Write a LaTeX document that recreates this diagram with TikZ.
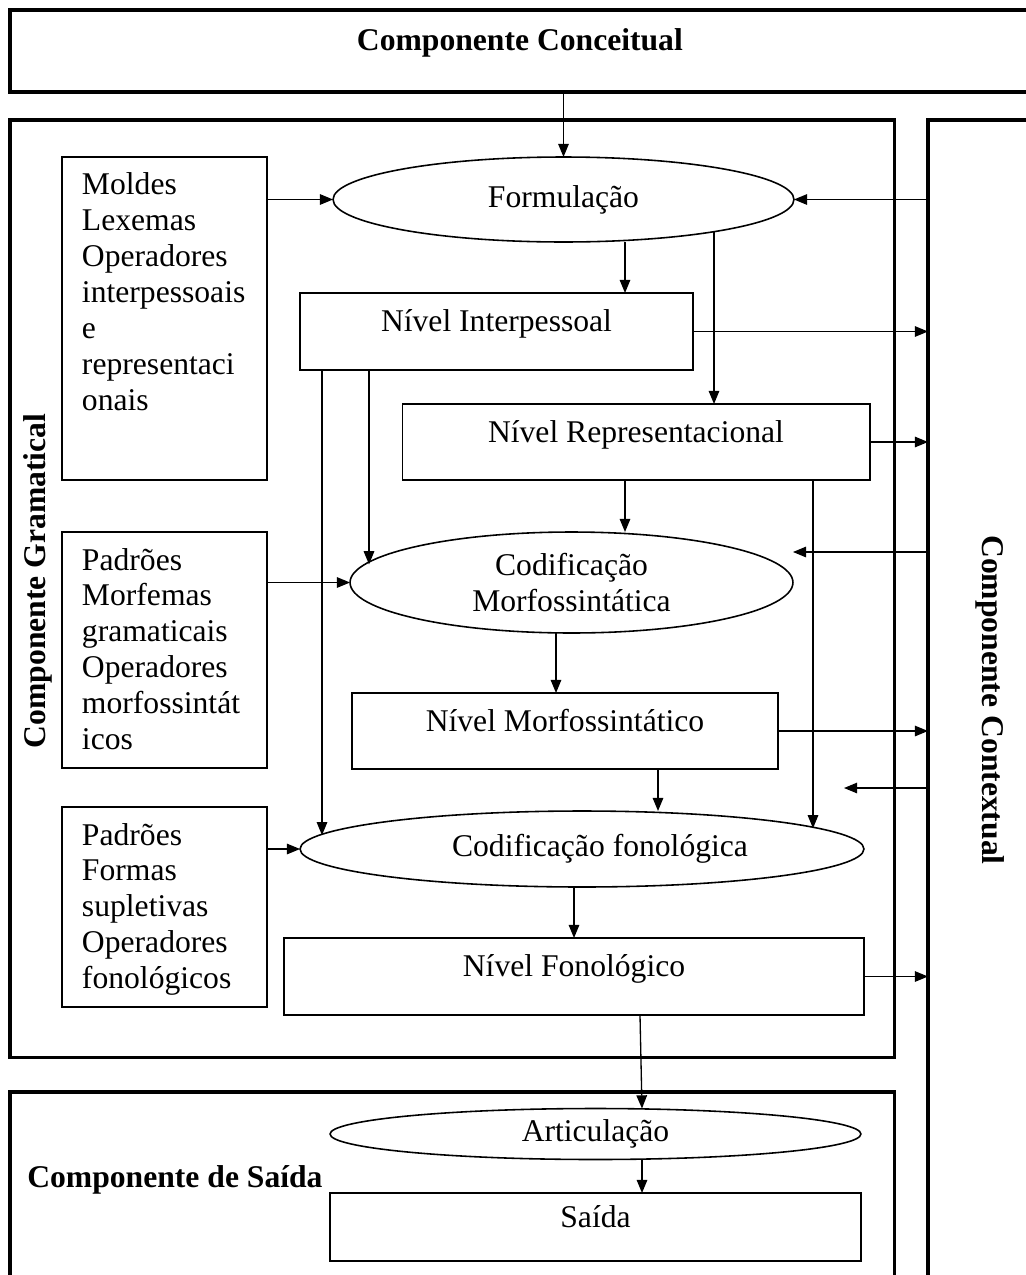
\documentclass[tikz,border=0pt]{standalone}
\usepackage{fontspec}
\setmainfont{Liberation Serif}
\usepackage{tikz}
\usetikzlibrary{shapes.geometric, arrows.meta, positioning, calc}

\begin{document}
\begin{tikzpicture}[x=0.02cm, y=-0.02cm,
    every node/.style={font=\fontsize{18}{20.4}\selectfont},
    comp/.style={draw, line width=1.8pt, inner sep=0pt, outer sep=0pt, anchor=north west},
    lvl/.style={draw, fill=white, line width=0.9pt, inner sep=0pt, outer sep=0pt, text height=0pt, text depth=0pt},
    proc/.style={ellipse, draw, fill=white, line width=0.9pt, inner sep=0pt, outer sep=0pt, align=center},
    res/.style={draw, fill=white, line width=0.9pt, anchor=north west, align=left, text width=3.3cm,
        inner xsep=0.4cm, inner ysep=0.2cm, text height=0.56cm, outer sep=0pt},
    lbl/.style={font=\fontsize{18}{20.4}\selectfont\bfseries},
    arr/.style={-{Triangle[length=7.5pt, width=6pt]}, line width=0.75pt}]
    \useasboundingbox (0,0) rectangle (1025,1275);

    % Componentes
    \node[comp, lbl, minimum width=20.4cm, minimum height=1.64cm, text height=0pt, text depth=0pt] (conc) at (10,10) {Componente Conceitual};
    \node[comp, minimum width=17.7cm, minimum height=18.76cm] (gram) at (10,120) {};
    \node[comp, minimum width=3cm, minimum height=24cm] (ctx) at (928,120) {};
    \node[comp, minimum width=17.7cm, minimum height=4cm] (outp) at (10,1092) {};
    \node[lbl, rotate=90] (gramlbl) at (38,581) {Componente Gramatical};
    \node[lbl, rotate=-90] (ctxlbl) at (990,700) {Componente Contextual};
    \node[lbl, anchor=west, inner sep=0pt] (outlbl) at (27,1180) {Componente de Saída};

    % Formulacao
    \node[proc, minimum width=9.22cm, minimum height=1.7cm] (formul) at (563.5,199.5) {Formulação};
    \node[res, text depth=5.5cm] (moldes) at (62,157) {Moldes\\Lexemas\\Operadores\\interpessoais\\e\\representaci\\onais};
    \node[lvl, minimum width=7.86cm, minimum height=1.54cm] (nivI) at (496.5,331.5) {Nível Interpessoal};
    \node[lvl, minimum width=9.35cm, minimum height=1.52cm] (nivR) at (636,442) {Nível Representacional};

    % Codificacao morfossintatica
    \node[proc, minimum width=8.86cm, minimum height=2.02cm] (codM) at (571.5,582.5) {Codificação\\Morfossintática};
    \node[res, text depth=3.76cm] (padM) at (62,532) {Padrões\\Morfemas\\gramaticais\\Operadores\\morfossintát\\icos};
    \node[lvl, minimum width=8.53cm, minimum height=1.52cm] (nivM) at (565,731) {Nível Morfossintático};

    % Codificacao fonologica
    \node[proc, minimum width=11.28cm, minimum height=1.52cm] (codF) at (582,849) {\hspace*{0.72cm}Codificação fonológica};
    \node[res, text depth=3.04cm] (padF) at (62,807) {Padrões\\Formas\\supletivas\\Operadores\\fonológicos};
    \node[lvl, minimum width=11.6cm, minimum height=1.54cm] (nivF) at (574,976.5) {Nível Fonológico};

    % Saida
    \node[proc, minimum width=10.62cm, minimum height=1.02cm] (artic) at (595.5,1134) {Articulação};
    \node[lvl, minimum width=10.62cm, minimum height=1.36cm] (saida) at (595.5,1227) {Saída};
    \coordinate (cue) at (844,788);

    % setas
    \draw[arr] (formul.north |- conc.south) -- (formul.north);
    \draw[arr] (moldes.east |- formul.west) -- (formul.west);
    \draw[arr] (ctx.west |- formul.east) -- (formul.east);
    \draw[arr] (625,0 |- formul.south) -- (625,0 |- nivI.north);
    \draw[arr] (714,0 |- formul.-12) -- (714,0 |- nivR.north);
    \draw[arr] (nivI.east) -- (ctx.west |- nivI.east);
    \draw[arr] (nivR.east) -- (ctx.west |- nivR.east);
    \draw[arr] (369,0 |- nivI.south) -- (369,0 |- codM.175);
    \draw[arr] (322,0 |- nivI.south) -- (322,0 |- codF.177);
    \draw[arr] (625,0 |- nivR.south) -- (625,0 |- codM.north);
    \draw[arr] (813,0 |- nivR.south) -- (813,0 |- codF.5);
    \draw[arr] (ctx.west |- 0,552) -- (codM.east |- 0,552);
    \draw[arr] (padM.east |- codM.west) -- (codM.west);
    \draw[arr] (556,0 |- codM.south) -- (556,0 |- nivM.north);
    \draw[arr] (nivM.east) -- (ctx.west |- nivM.east);
    \draw[arr] (ctx.west |- cue) -- (cue);
    \draw[arr] (658,0 |- nivM.south) -- (658,0 |- codF.north);
    \draw[arr] (padF.east |- codF.west) -- (codF.west);
    \draw[arr] (574,0 |- codF.south) -- (574,0 |- nivF.north);
    \draw[arr] (nivF.east) -- (ctx.west |- nivF.east);
    \draw[arr] (640,0 |- nivF.south) -- (642,0 |- artic.north);
    \draw[arr] (642,0 |- artic.south) -- (642,0 |- saida.north);
\end{tikzpicture}
\end{document}
